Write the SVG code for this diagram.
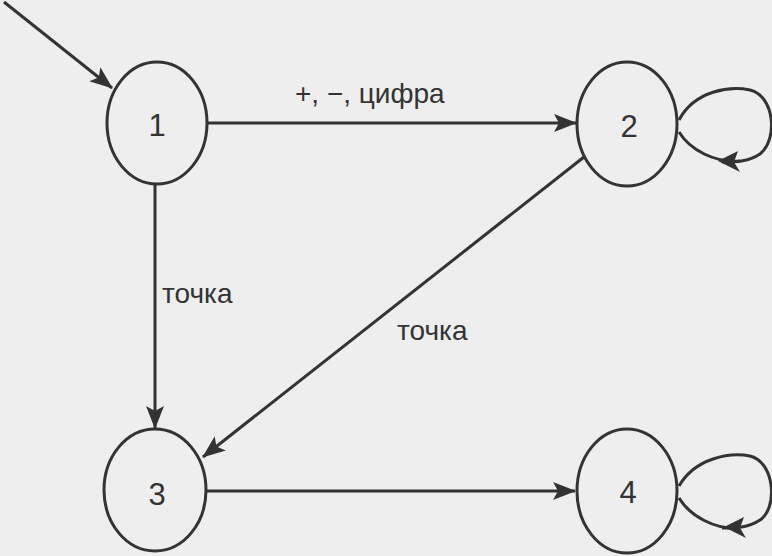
<svg xmlns="http://www.w3.org/2000/svg" width="772" height="556" viewBox="0 0 772 556">
<defs>
<style>
.node{fill:none;stroke:#333;stroke-width:3}
.edge{fill:none;stroke:#333;stroke-width:3}
.lbl{font-family:"Liberation Sans",Arial,sans-serif;font-size:28px;fill:#333}
.num{font-family:"Liberation Sans",Arial,sans-serif;font-size:31px;fill:#333;text-anchor:middle}
.head{fill:#333}
</style>
<marker id="arr" markerWidth="24" markerHeight="18" refX="22" refY="9" orient="auto" markerUnits="userSpaceOnUse">
<path d="M0,0 L23,9 L0,18 L5,9 Z" class="head"/>
</marker>
</defs>
<rect width="772" height="556" fill="#eeeeee"/>
<g id="connectors">
<line class="edge" x1="4" y1="2" x2="112" y2="88" marker-end="url(#arr)"/>
<line class="edge" x1="208" y1="123" x2="576" y2="123" marker-end="url(#arr)"/>
<line class="edge" x1="155" y1="184" x2="155" y2="428" marker-end="url(#arr)"/>
<line class="edge" x1="584" y1="157" x2="203" y2="457" marker-end="url(#arr)"/>
<line class="edge" x1="207" y1="491" x2="575" y2="491" marker-end="url(#arr)"/>
<path class="edge" d="M679,120 C695,90 730,86 750,90 C775,96 778,140 760,154 C748,162 735,162 722,162"/>
<path class="edge" d="M740,161 C715,163 690,150 679,132"/>
<path class="head" d="M718,161 L738,151 L734,162 L740,172 Z"/>
<path class="edge" d="M679,486 C695,458 730,452 750,456 C775,462 778,508 760,520 C748,528 735,528 722,528"/>
<path class="edge" d="M740,528 C715,530 690,516 679,498"/>
<path class="head" d="M724,527 L744,517 L740,528 L746,538 Z"/>
<text class="lbl" x="295" y="103">+, −, цифра</text>
<text class="lbl" x="162" y="303">точка</text>
<text class="lbl" x="397" y="340">точка</text>
</g>
<g id="node1"><ellipse class="node" cx="157" cy="123" rx="50" ry="61"/><text class="num" x="157" y="136">1</text></g>
<g id="node2"><ellipse class="node" cx="627" cy="124" rx="50" ry="62"/><text class="num" x="629" y="137">2</text></g>
<g id="node3"><ellipse class="node" cx="155" cy="490" rx="51" ry="61"/><text class="num" x="157" y="505">3</text></g>
<g id="node4"><ellipse class="node" cx="627" cy="491" rx="50" ry="62"/><text class="num" x="628" y="503">4</text></g>
</svg>
